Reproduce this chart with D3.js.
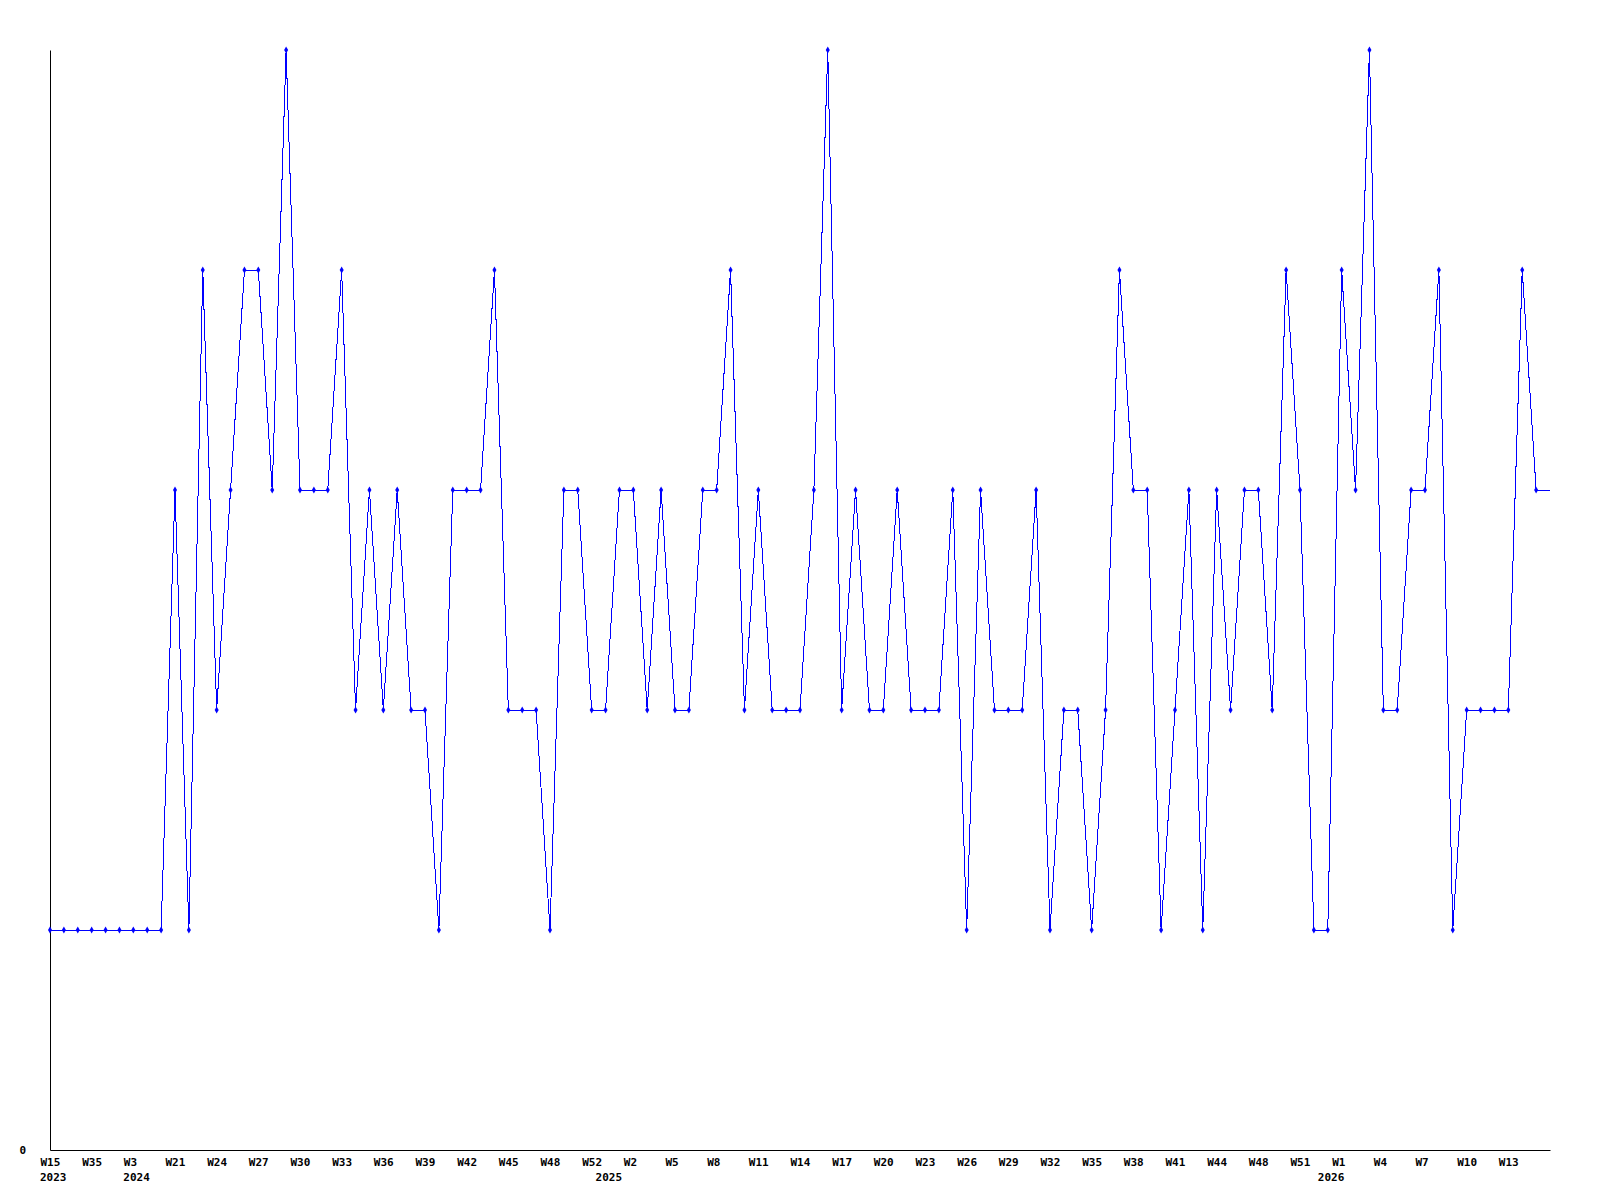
<!DOCTYPE html>
<html>
<head>
<meta charset="utf-8">
<script src="https://cdn.jsdelivr.net/npm/d3@7"></script>
<style>
  body { margin: 0; background: #fff; }
  .axis text { font-family: "DejaVu Sans Mono", monospace; font-weight: bold; font-size: 11px; fill: #000; }
  .axis path { stroke: #000; }
</style>
</head>
<body>
<div id="chart"></div>
<script>
// weekly counts, one per point (the last one is the running week, drawn without a marker)
var counts = [1, 1, 1, 1, 1, 1, 1, 1, 1, 3, 1, 4, 2, 3, 4, 4, 3, 5, 3, 3,
              3, 4, 2, 3, 2, 3, 2, 2, 1, 3, 3, 3, 4, 2, 2, 2, 1, 3, 3, 2,
              2, 3, 3, 2, 3, 2, 2, 3, 3, 4, 2, 3, 2, 2, 2, 3, 5, 2, 3, 2,
              2, 3, 2, 2, 2, 3, 1, 3, 2, 2, 2, 3, 1, 2, 2, 1, 2, 4, 3, 3,
              1, 2, 3, 1, 3, 2, 3, 3, 2, 4, 3, 1, 1, 4, 3, 5, 2, 2, 3, 3,
              4, 1, 2, 2, 2, 2, 4, 3, 3]

// a week label sits on every third point
var weekLabels = ["W15", "W35", "W3", "W21", "W24", "W27", "W30", "W33", "W36", "W39",
                  "W42", "W45", "W48", "W52", "W2", "W5", "W8", "W11", "W14", "W17",
                  "W20", "W23", "W26", "W29", "W32", "W35", "W38", "W41", "W44", "W48",
                  "W51", "W1", "W4", "W7", "W10", "W13"]

// year labels and the point where each year starts
var years = ["2023", "2024", "2025", "2026"]
var yearStart = [0, 6, 40, 92]

var margin = { top: 50, left: 50, right: 50, bottom: 50 },
    width = 1600 - margin.left - margin.right,
    height = 1200 - margin.top - margin.bottom

var svg = d3.select("#chart")
    .append("svg")
    .attr("width", width + margin.left + margin.right)
    .attr("height", height + margin.top + margin.bottom)
    .append("g")
    .attr("transform", "translate(" + margin.left + "," + margin.top + ")")

var xPositionScale = d3.scalePoint()
  .domain(d3.range(counts.length))
  .range([0, width])

var yPositionScale = d3.scaleLinear()
  .domain([0, 5])
  .range([height, 0])

var xAxis = d3.axisBottom(xPositionScale)
  .tickValues(weekLabels.map(function(d, i) { return i * 3 }))
  .tickFormat(function(d) { return weekLabels[d / 3] })
  .tickSize(0)
  .tickSizeOuter(0)
  .tickPadding(0)

var xg = svg.append("g")
  .attr("class", "axis x-axis")
  .attr("transform", "translate(0," + height + ")")
  .call(xAxis)

xg.selectAll(".tick text")
  .attr("text-anchor", "start")
  .attr("dx", -10)
  .attr("dy", null)
  .attr("y", 16)

xg.selectAll(".year")
  .data(years)
  .enter().append("text")
  .attr("class", "year")
  .text(function(d) { return d })
  .attr("text-anchor", "start")
  .attr("x", function(d, i) { return xPositionScale(yearStart[i]) - 10 })
  .attr("y", 31)

var yAxis = d3.axisLeft(yPositionScale)
  .tickValues([0])
  .tickFormat(d3.format("d"))
  .tickSize(0)
  .tickSizeOuter(0)
  .tickPadding(24)

svg.append("g")
  .attr("class", "axis y-axis")
  .call(yAxis)

var line = d3.line()
  .x(function(d, i) { return xPositionScale(i) })
  .y(function(d) { return yPositionScale(d) })

svg.append("path")
  .datum(counts)
  .attr("d", line)
  .attr("fill", "none")
  .attr("stroke", "#0000ff")
  .attr("stroke-width", 1)
  .attr("shape-rendering", "crispEdges")

svg.selectAll(".marker")
  .data(counts.slice(0, counts.length - 1))
  .enter().append("path")
  .attr("class", "marker")
  .attr("d", d3.symbol().type(d3.symbolDiamond).size(14))
  .attr("transform", function(d, i) {
    return "translate(" + xPositionScale(i) + "," + yPositionScale(d) + ")"
  })
  .attr("fill", "#0000ff")
</script>
</body>
</html>
